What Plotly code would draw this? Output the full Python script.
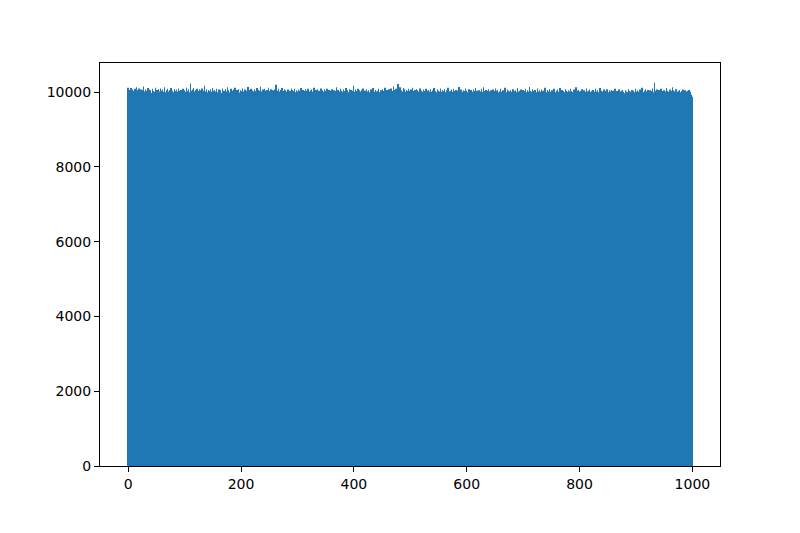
import plotly.graph_objects as go

# counts per bin (0..999)
counts = [
    10120, 10080, 9950, 10060, 9890, 10110, 10020, 9930, 10070, 9980, 10040, 9870, 10090, 9960, 10010, 10130, 9920, 10050, 9990, 10100,
    9940, 10030, 9880, 10070, 10000, 9910, 10060, 10150, 9970, 10020, 9860, 10080, 9990, 10040, 9930, 10110, 9950, 10000, 10070, 9900,
    10050, 9820, 9980, 10090, 9940, 10030, 9870, 10010, 10120, 9960, 9900, 10060, 9990, 9840, 10080, 10020, 9930, 10100, 9970, 10040,
    9890, 10070, 10010, 9950, 10130, 9920, 10000, 9860, 10050, 9980, 10090, 9940, 10020, 9880, 10060, 9990, 10110, 9910, 10040, 9970,
    10000, 9930, 10080, 9850, 10030, 9960, 10070, 10010, 9900, 10100, 9950, 10040, 9980, 9870, 10060, 10020, 9940, 10090, 9990, 9910,
    10050, 9970, 10010, 10120, 9880, 10030, 9960, 10080, 9920, 10000, 10230, 9950, 10040, 9890, 10070, 9980, 10110, 9930, 10020, 9860,
    10060, 9990, 10090, 9940, 10030, 9900, 10080, 10010, 9970, 10050, 9920, 10100, 9980, 10040, 9950, 10170, 9870, 10020, 9960, 10070,
    10000, 9910, 10060, 9990, 10030, 9850, 10080, 9940, 10010, 10110, 9970, 10040, 9900, 10050, 9980, 10020, 9930, 10090, 9960, 10000,
    9890, 10070, 10030, 9950, 10060, 9980, 9920, 10100, 10010, 9940, 10040, 9870, 10080, 9990, 10020, 9960, 10130, 9910, 10050, 9970,
    10000, 9930, 10090, 9880, 10040, 10010, 9950, 10070, 9980, 10120, 9900, 10030, 9960, 10060, 9920, 10010, 10080, 9940, 9990, 10050,
    9860, 10030, 9970, 10100, 9940, 10020, 9890, 10070, 10000, 9950, 10040, 9980, 10140, 9910, 10060, 9960, 10010, 9930, 10090, 9870,
    10050, 9990, 10020, 9940, 10080, 9900, 10030, 9970, 10110, 9950, 10000, 10060, 9920, 10040, 9980, 10150, 9890, 10020, 9960, 10070,
    10010, 9930, 10090, 9970, 10040, 9880, 10060, 10000, 9950, 10120, 9910, 10030, 9990, 10080, 9940, 10020, 9960, 10050, 9900, 10010,
    10070, 9930, 10200, 9980, 10040, 9870, 10090, 9960, 10020, 9940, 10060, 10000, 9910, 10110, 9970, 10030, 9950, 10080, 9890, 10050,
    9990, 10020, 9930, 10070, 9960, 10010, 9850, 10040, 9980, 10100, 9920, 10060, 9970, 10030, 9940, 10090, 10000, 9900, 10050, 9960,
    10020, 9880, 10070, 9990, 10040, 9950, 10110, 9910, 10000, 9970, 10060, 9930, 10030, 9860, 10080, 10010, 9960, 10040, 9920, 10090,
    9980, 10020, 9940, 10050, 9900, 10070, 9990, 10010, 9950, 10120, 9870, 10030, 9970, 10060, 9930, 10000, 10080, 9910, 10040, 9980,
    10020, 9960, 10100, 9890, 10050, 9940, 10010, 9990, 10070, 9920, 10030, 9970, 10090, 9950, 10000, 9880, 10060, 10020, 9940, 10040,
    9910, 10080, 9980, 10010, 9960, 10050, 9900, 10030, 9970, 10130, 9930, 10000, 10060, 9950, 10020, 9870, 10090, 9990, 10040, 9940,
    10010, 9960, 10070, 9920, 10030, 9980, 10110, 9890, 10050, 9970, 10000, 9940, 10080, 10020, 9910, 10060, 9950, 10040, 9990, 10170,
    9930, 10010, 9860, 10070, 9980, 10030, 9950, 10090, 9920, 10000, 10050, 9970, 10020, 9890, 10060, 9940, 10100, 9990, 10010, 9960,
    10040, 9900, 10080, 9970, 10020, 9930, 10050, 9980, 10000, 9950, 10070, 9910, 10030, 9960, 10110, 9940, 10010, 9880, 10060, 9990,
    10020, 9950, 10040, 9920, 10090, 9970, 10000, 9940, 10050, 10010, 9900, 10070, 9980, 10030, 9960, 10120, 9930, 10020, 9870, 10060,
    10000, 9950, 10080, 9990, 10040, 9910, 10100, 9970, 10030, 9940, 10150, 9980, 10060, 10010, 9920, 10090, 9960, 10040, 10220, 9950,
    10070, 10000, 10130, 9930, 10050, 9990, 10020, 9960, 10110, 9940, 10080, 10010, 9900, 10060, 9970, 10030, 9950, 10090, 9980, 10040,
    9920, 10070, 10000, 9960, 10120, 9890, 10030, 9990, 10060, 9940, 10010, 10080, 9970, 10050, 9910, 10020, 9960, 10100, 9930, 10040,
    9980, 10010, 9870, 10070, 9950, 10030, 10000, 9920, 10090, 9970, 10040, 9940, 10060, 9990, 10020, 9900, 10080, 9960, 10010, 9930,
    10050, 9980, 10110, 9910, 10030, 9970, 10000, 9950, 10070, 9890, 10040, 9990, 10020, 9940, 10100, 9960, 10010, 10060, 9920, 10030,
    9980, 10080, 9950, 10000, 9870, 10050, 9970, 10120, 9930, 10020, 9990, 10040, 9910, 10070, 9960, 10010, 9940, 10090, 9980, 10030,
    9900, 10060, 10000, 9950, 10040, 9970, 10140, 9920, 10020, 9990, 10070, 9940, 10010, 9880, 10050, 9960, 10030, 9980, 10100, 9930,
    10040, 9970, 10000, 9950, 10080, 9910, 10020, 9990, 10060, 9940, 10010, 9860, 10070, 9980, 10030, 9960, 10110, 9920, 10040, 9970,
    10000, 9940, 10050, 9990, 10020, 9900, 10090, 9960, 10010, 9950, 10130, 9930, 10030, 9980, 10060, 9910, 10040, 9970, 10000, 10080,
    9940, 10020, 9890, 10050, 9990, 10010, 9960, 10070, 9920, 10030, 9980, 10100, 9950, 10040, 9870, 10060, 10000, 9940, 10020, 9970,
    10090, 9930, 10010, 9990, 10050, 9910, 10030, 9960, 10120, 9980, 10000, 9950, 10070, 9920, 10040, 9990, 10020, 9900, 10060, 9970,
    10010, 9940, 10080, 9880, 10030, 9980, 10050, 9960, 10000, 9930, 10110, 9970, 10020, 9950, 10040, 9910, 10070, 9990, 10010, 9940,
    10060, 9960, 10030, 9900, 10090, 9980, 10000, 9950, 10050, 9920, 10020, 10140, 9970, 10040, 9930, 10010, 9990, 10080, 9870, 10030,
    9960, 10060, 9940, 10000, 9980, 10100, 9910, 10020, 9970, 10050, 9950, 10010, 9890, 10070, 9990, 10030, 9930, 10040, 9960, 10120,
    9980, 10000, 9920, 10060, 9950, 10020, 9990, 10080, 9940, 10010, 9900, 10050, 9970, 10030, 9960, 10090, 9930, 10000, 9980, 10040,
    9910, 10070, 9970, 10010, 9950, 10110, 9940, 10020, 9880, 10060, 9990, 10030, 9960, 10000, 9920, 10080, 9980, 10040, 9950, 10010,
    10050, 9930, 10020, 9970, 10090, 9900, 10030, 9990, 10000, 9960, 10070, 9940, 10010, 9980, 10130, 9920, 10040, 9950, 10060, 9870,
    10020, 9990, 10030, 9940, 10080, 9970, 10000, 9910, 10050, 9960, 10010, 9980, 10100, 9930, 10020, 9950, 10040, 9890, 10070, 9990,
    10000, 9960, 10030, 9920, 10060, 9980, 10010, 9940, 10090, 9970, 10020, 9900, 10050, 9950, 10000, 9930, 10110, 9990, 10040, 9960,
    9880, 10020, 9970, 10070, 9940, 10010, 9990, 10030, 9910, 10080, 9960, 10000, 9950, 10050, 9920, 10020, 9980, 10060, 9870, 10040,
    9970, 10010, 9930, 10090, 9990, 9860, 10030, 9950, 10000, 9920, 10070, 9980, 10020, 9940, 10040, 9900, 10060, 9960, 10010, 9970,
    9890, 10050, 9940, 10020, 9980, 10000, 9850, 10080, 9960, 10030, 9930, 10010, 9990, 10060, 9910, 10040, 9970, 10000, 9950, 10090,
    9920, 10020, 9980, 10050, 9940, 10010, 9960, 10070, 9900, 10030, 9990, 10120, 9930, 10000, 9970, 10040, 9950, 10080, 9910, 10020,
    9980, 10060, 9940, 10010, 9870, 10050, 9960, 10030, 9990, 10100, 9920, 10000, 9970, 10250, 9950, 10040, 9900, 10070, 9980, 10020,
    9940, 10060, 10010, 9960, 10090, 9930, 10030, 9980, 10000, 9910, 10050, 9970, 10020, 9950, 10110, 9940, 10040, 9990, 10010, 9960,
    10070, 9920, 10030, 9980, 10000, 10130, 9950, 10050, 9890, 10020, 9970, 10080, 9940, 10010, 9990, 10040, 9930, 10060, 9960, 10000,
    9910, 10030, 9980, 10070, 9950, 10010, 9940, 10050, 9970, 10020, 9900, 10040, 9960, 9990, 10060, 9920, 10010, 9950, 9930, 9880,
]
bins = list(range(len(counts)))
x_ticks = [0, 200, 400, 600, 800, 1000]
y_ticks = [0, 2000, 4000, 6000, 8000, 10000]

fig = go.Figure()
fig.add_trace(go.Bar(x=bins, y=counts, width=0.8,
                     marker=dict(color="#1f77b4", line=dict(width=0))))

axis_style = dict(
    showline=True, linecolor="black", linewidth=1, mirror=True,
    ticks="outside", ticklen=5, tickwidth=1, tickcolor="black",
    showgrid=False, zeroline=False,
    tickfont=dict(family="DejaVu Sans", size=14, color="black"),
)
fig.update_xaxes(range=[-49.95, 1048.95], tickvals=x_ticks,
                 ticktext=[str(v) for v in x_ticks], **axis_style)
fig.update_yaxes(range=[0, 10780], tickvals=y_ticks,
                 ticktext=[str(v) for v in y_ticks], **axis_style)

fig.update_layout(
    width=800, height=533,
    margin=dict(l=92, r=88, t=55, b=75),
    plot_bgcolor="white", paper_bgcolor="white",
    showlegend=False,
)
fig.write_html("out.html")
